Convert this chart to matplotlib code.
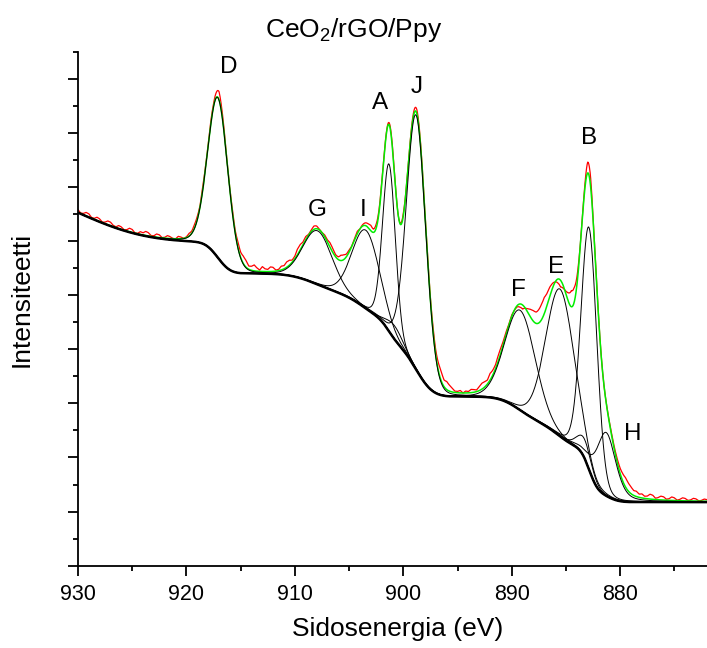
import math
import numpy as np
import matplotlib
matplotlib.use("Agg")
import matplotlib.pyplot as plt
from matplotlib.ticker import MultipleLocator, NullFormatter

plt.rcParams['font.family'] = ['Liberation Sans', 'DejaVu Sans']
plt.rcParams['mathtext.fontset'] = 'custom'
plt.rcParams['mathtext.rm'] = 'Liberation Sans'
plt.rcParams['mathtext.it'] = 'Liberation Sans:italic'

# ---- Ce 3d fit components (binding energy eV, height, FWHM eV, Lorentzian fraction)
#      two small unlabelled components sit under A/J and under B
components = ['D', 'G', 'I', 'A', '', 'J', 'F', 'E', '', 'B', 'H']
centers  = [917.10, 907.91, 903.46, 901.32, 900.80, 898.82, 889.22, 885.55, 883.30, 882.87, 881.29]
heights  = [5.91, 1.98, 2.89, 6.18, 0.50, 9.40, 3.69, 5.44, 0.70, 8.94, 2.34]
fwhms    = [2.20, 3.20, 3.00, 1.40, 1.80, 2.10, 3.30, 3.10, 1.60, 1.70, 2.10]
lorentz  = [0.10, 0.10, 0.10, 0.10, 0.10, 0.10, 0.10, 0.10, 0.30, 0.10, 0.40]

# ---- Shirley-type background: step under each peak (centre, size, width)
bg_base    = 2.35
bg_centers = [917.10, 907.91, 903.46, 901.32, 898.82, 889.22, 885.55, 882.87, 881.29, 930.0]
bg_sizes   = [1.15, 0.80, 1.00, 0.75, 2.00, 1.00, 0.95, 1.50, 0.45, 2.20]
bg_widths  = [0.90, 2.00, 1.50, 0.70, 1.20, 1.50, 1.30, 0.60, 0.90, 5.00]

# ---- measured counts minus fit envelope, every 0.25 eV from 930 eV down to 872 eV
residual = [
    0.10, 0.02, 0.05, 0.13, 0.12, 0.03, 0.04, 0.12, 0.10, 0.02,
    0.06, 0.14, 0.13, 0.05, 0.03, 0.11, 0.09, 0.02, 0.05, 0.13,
    0.11, 0.01, 0.02, 0.10, 0.08, 0.15, 0.12, 0.03, 0.04, 0.12,
    0.10, 0.01, 0.03, 0.10, 0.07, 0.01, 0.00, 0.09, 0.06, 0.00,
    0.03, 0.10, 0.08, 0.14, 0.12, 0.06, 0.15, 0.08, 0.05, 0.12,
    0.10, 0.18, 0.30, 0.20, 0.12, 0.02, 0.05, 0.13, 0.10, 0.22,
    0.20, 0.28, 0.25, 0.12, 0.15, 0.22, 0.12, 0.05, 0.18, 0.10,
    0.08, 0.17, 0.15, 0.04, 0.05, 0.14, 0.12, 0.20, 0.18, 0.08,
    0.10, 0.22, 0.20, 0.10, 0.12, 0.03, 0.05, 0.12, 0.10, 0.02,
    0.00, 0.07, 0.08, 0.17, 0.15, 0.08, 0.10, 0.20, 0.18, 0.10,
    0.08, 0.01, 0.05, 0.09, 0.00, 0.05, 0.10, 0.14, 0.20, 0.12,
    0.15, 0.10, 0.10, 0.05, 0.05, 0.08, 0.10, 0.05, 0.00, 0.05,
    0.10, 0.03, 0.05, 0.10, 0.12, 0.15, 0.12, 0.10, 0.05, 0.12,
    0.10, 0.18, 0.20, 0.30, 0.35, 0.25, 0.30, 0.22, 0.15, 0.05,
    0.05, 0.09, 0.00, 0.07, 0.05, 0.12, 0.10, 0.06, 0.15, 0.22,
    0.20, 0.15, 0.25, 0.18, 0.15, 0.22, 0.20, 0.12, 0.10, 0.03,
    0.05, -0.02, -0.05, -0.12, -0.15, 0.00, 0.15, 0.30, 0.40, 0.42,
    0.50, 0.58, 0.60, 0.45, 0.35, 0.18, 0.00, -0.15, -0.25, -0.10,
    0.10, 0.35, 0.60, 0.55, 0.30, 0.10, 0.00, 0.15, 0.40, 0.35,
    0.10, 0.05, 0.05, 0.02, 0.00, 0.03, 0.05, 0.08, 0.10, 0.15,
    0.20, 0.28, 0.35, 0.30, 0.25, 0.18, 0.20, 0.12, 0.15, 0.08,
    0.10, 0.18, 0.15, 0.05, 0.08, 0.14, 0.12, 0.04, 0.06, 0.13,
    0.10, 0.02, 0.05, 0.11, 0.09, 0.02, 0.04, 0.10, 0.08, 0.01,
    0.03, 0.08, 0.06,
]
residual_step = 0.25

# peak letters and their placement (eV, intensity)
labels  = ['D', 'G', 'I', 'A', 'J', 'F', 'E', 'B', 'H']
label_x = [916.08, 907.97, 903.73, 902.17, 898.73, 889.42, 885.88, 882.87, 878.82]
label_y = [18.44, 13.15, 13.15, 17.10, 17.69, 10.19, 11.05, 15.80, 4.87]

E = np.linspace(872.0, 930.0, 2321)
erf = np.vectorize(math.erf)


def pseudo_voigt(x, c, h, w, eta):
    u = (x - c) / w
    return h * ((1 - eta) * np.exp(-4 * np.log(2) * u ** 2) + eta / (1 + 4 * u ** 2))


background = np.full_like(E, bg_base)
for c, s, w in zip(bg_centers, bg_sizes, bg_widths):
    background += s * 0.5 * (1 + erf((E - c) / (w * np.sqrt(2))))

peaks = [pseudo_voigt(E, c, h, w, eta)
         for c, h, w, eta in zip(centers, heights, fwhms, lorentz)]
envelope = background + np.sum(peaks, axis=0)

res_E = 930.0 - residual_step * np.arange(len(residual))
measured = envelope + np.interp(E, res_E[::-1], np.array(residual)[::-1])

fig = plt.figure(figsize=(7.07, 6.48), dpi=100)
ax = fig.add_axes([78 / 707, 1 - 565.7 / 648, 1 - 78 / 707, (565.7 - 51.7) / 648])

ax.plot(E, measured, color='#ff0000', lw=0.9, zorder=2)
ax.plot(E, envelope, color='#00ee00', lw=1.1, zorder=3)
for p in peaks:
    ax.plot(E, background + p, color='black', lw=0.7, zorder=4)
ax.plot(E, background, color='black', lw=1.8, zorder=5)

for t, x, y in zip(labels, label_x, label_y):
    ax.text(x, y, t, fontsize=17.5, ha='center', va='center', zorder=6)

ax.set_xlim(930, 872)
ax.set_ylim(0, 19)
ax.xaxis.set_major_locator(MultipleLocator(10))
ax.xaxis.set_minor_locator(MultipleLocator(5))
ax.yaxis.set_major_locator(MultipleLocator(2))
ax.yaxis.set_minor_locator(MultipleLocator(1))
ax.yaxis.set_major_formatter(NullFormatter())
ax.tick_params(axis='both', which='major', length=7, width=1.3, direction='out')
ax.tick_params(axis='both', which='minor', length=3.6, width=1.3, direction='out')
ax.tick_params(axis='x', labelsize=15.5, pad=6)
for side in ('top', 'right'):
    ax.spines[side].set_visible(False)
for side in ('left', 'bottom'):
    ax.spines[side].set_linewidth(1.3)

fig.text(0.5, 1 - 37.5 / 648, 'CeO$_\\mathregular{2}$/rGO/Ppy', fontsize=19,
         ha='center', va='baseline')
fig.text(398 / 707, 1 - 636 / 648, 'Sidosenergia (eV)', fontsize=19,
         ha='center', va='baseline')
fig.text(22 / 707, 1 - 299 / 648, 'Intensiteetti', fontsize=19,
         ha='center', va='center', rotation=90)

fig.savefig('out.png', dpi=100)
